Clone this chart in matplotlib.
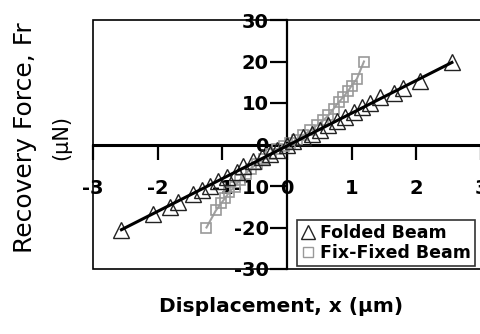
import numpy as np
import matplotlib.pyplot as plt
from matplotlib.patches import Rectangle
from matplotlib.lines import Line2D

plt.rcParams['font.family'] = ['DejaVu Sans']
plt.rcParams['axes.unicode_minus'] = False

# Folded beam (triangles)
folded_x = [-2.56, -2.07, -1.81, -1.68, -1.45, -1.32, -1.19, -1.07, -0.93, -0.78,
            -0.68, -0.52, -0.39, -0.26, -0.16, 0.0, 0.10, 0.25, 0.38, 0.51, 0.64,
            0.77, 0.90, 1.03, 1.16, 1.29, 1.44, 1.65, 1.80, 2.06, 2.55]
folded_y = [-20.5, -16.7, -15.1, -13.9, -11.9, -10.9, -9.9, -8.7, -7.9, -6.7,
            -5.3, -4.0, -3.1, -2.2, -1.4, 0.0, 0.9, 1.9, 2.6, 3.6, 4.6,
            5.6, 6.7, 7.8, 9.0, 9.9, 11.4, 12.4, 13.6, 15.2, 19.8]

# Fix-fixed beam (squares)
fixed_x = [-1.245, -1.10, -1.02, -0.96, -0.89, -0.81, -0.73, -0.64, -0.56, -0.46,
           -0.36, -0.25, -0.15, -0.05, 0.05, 0.15, 0.25, 0.36, 0.46, 0.56, 0.64,
           0.72, 0.80, 0.87, 0.95, 1.00, 1.08, 1.19]
fixed_y = [-20.0, -15.9, -14.2, -13.0, -11.4, -10.2, -8.6, -7.0, -5.8, -4.6,
           -3.4, -2.2, -1.1, -0.3, 0.3, 1.1, 2.2, 3.4, 4.6, 5.8, 7.0,
           8.6, 10.2, 11.4, 13.0, 14.2, 15.8, 20.0]

xticks = [-3, -2, -1, 0, 1, 2, 3]
yticks = [-30, -20, -10, 0, 10, 20, 30]

fig = plt.figure(figsize=(4.81, 3.34), dpi=100)
ax = fig.add_axes([93 / 481, 1 - 269 / 334, 388 / 481, 249 / 334])
ax.set_xlim(-3, 3)
ax.set_ylim(-30, 30)

# squares with grey connecting line
ax.plot(fixed_x, fixed_y, color='#a0a0a0', lw=1.5, marker='s', ms=7.5,
        mfc='none', mec='#999999', mew=1.2, zorder=3)
# triangles + linear trend
ax.plot(folded_x, folded_y, ls='none', marker='^', ms=11, mfc='none',
        mec='#222222', mew=1.0, zorder=4)
k, b = np.polyfit(folded_x, folded_y, 1)
xs = np.array([folded_x[0], folded_x[-1]])
ax.plot(xs, k * xs + b, color='black', lw=2.2, zorder=5)

# axes through origin, box frame around
ax.spines['left'].set_position(('data', 0))
ax.spines['bottom'].set_position(('data', 0))
ax.spines['left'].set_linewidth(1.6)
ax.spines['bottom'].set_linewidth(2.2)
ax.spines['top'].set_visible(False)
ax.spines['right'].set_visible(False)
ax.add_patch(Rectangle((0, 0), 1, 1, transform=ax.transAxes, fill=False,
                       lw=1.2, ec='black', clip_on=False, zorder=6))

ax.set_xticks(xticks)
ax.set_yticks(yticks)
ax.tick_params(axis='x', direction='out', length=11, width=1.6, pad=14,
               labelsize=14)
ax.tick_params(axis='y', direction='out', length=12, width=1.6, pad=1,
               labelsize=14)
for lab in ax.get_xticklabels() + ax.get_yticklabels():
    lab.set_fontweight('bold')

handles = [Line2D([], [], ls='none', marker='^', ms=10, mfc='none', mec='#222222'),
           Line2D([], [], ls='none', marker='s', ms=7, mfc='none', mec='#999999')]
leg = ax.legend(handles, ['Folded Beam', 'Fix-Fixed Beam'], loc='lower right',
                bbox_to_anchor=(0.985, 0.012), frameon=True, fancybox=False,
                edgecolor='black', handlelength=0.8, handletextpad=0.3,
                borderpad=0.25, labelspacing=0.1, borderaxespad=0,
                prop={'weight': 'bold', 'size': 12.5})
leg.get_frame().set_linewidth(1.2)

fig.text(25 / 481, 1 - 138 / 334, 'Recovery Force, Fr', rotation=90,
         ha='center', va='center', fontsize=18)
fig.text(61 / 481, 1 - 137 / 334, '(\u03bcN)', rotation=90,
         ha='center', va='center', fontsize=15)
fig.text(281 / 481, 1 - 307 / 334, 'Displacement, x (\u03bcm)',
         ha='center', va='center', fontsize=14.5, fontweight='bold')

fig.savefig('out.png', dpi=100)
